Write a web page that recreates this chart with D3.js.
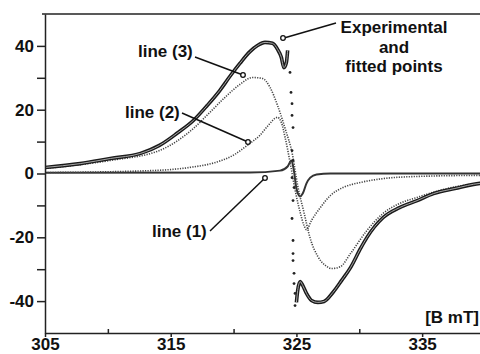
<!DOCTYPE html>
<html>
<head>
<meta charset="utf-8">
<script src="https://cdn.jsdelivr.net/npm/d3@7"></script>
<style>
  body { margin: 0; background: #fff; }
  text { font-family: "Liberation Sans", Arial, sans-serif; font-weight: bold; font-size: 17px; fill: #111; }
</style>
</head>
<body>
<div id="chart"></div>
<script>
// experimental / total fitted spectrum (B in mT, signal)
const expField = [305.0, 307.8, 310.2, 312.6, 314.1, 315.5, 316.8, 317.9, 318.9, 319.7, 320.5, 321.3, 321.9, 322.5, 323.1, 323.5, 323.8, 324.0, 324.2, 324.3,
  325.0, 325.1, 325.3, 325.5, 325.8, 326.2, 326.7, 327.2, 327.9, 328.6, 329.3, 330.1, 330.6, 331.9, 333.2, 334.6, 335.9, 337.6, 339.6, 340.0];
const expSignal = [1.9, 3.1, 4.7, 6.3, 8.8, 12.6, 16.6, 21.3, 26.0, 30.4, 34.5, 38.2, 40.1, 41.1, 40.8, 38.9, 36.4, 33.2, 34.8, 38.6,
  -40.4, -36.7, -33.9, -35.1, -37.6, -39.8, -40.4, -40.1, -37.3, -33.5, -29.5, -23.5, -20.1, -13.8, -10.7, -8.5, -6.3, -4.7, -3.1, -3.0];

// sparse experimental points in the steep crossing
const dotField = [324.49, 324.57, 324.65, 324.65, 324.73, 324.65, 324.73, 324.65, 324.81, 324.73, 324.65, 324.73, 324.73, 324.73, 324.81, 324.81, 324.89, 324.89];
const dotSignal = [31.7, 25.4, 21.9, 18.2, 14.4, 7.2, 4.1, -1.3, -4.4, -8.5, -14.1, -21.0, -25.1, -27.3, -31.3, -34.5, -37.6, -41.4];

// line (3)
const l3Field = [305.0, 310.2, 314.1, 316.8, 318.1, 319.3, 320.5, 321.5, 322.3, 322.9, 323.5, 324.1, 324.7, 325.1, 325.6, 326.1, 326.7, 327.3, 327.8, 328.5,
  329.3, 330.6, 331.9, 333.2, 334.6, 336.4, 339.6, 340.0];
const l3Signal = [1.6, 4.1, 7.2, 14.1, 19.1, 23.8, 27.9, 30.1, 29.8, 27.0, 21.3, 14.1, 5.6, -3.8, -12.2, -20.4, -26.0, -28.8, -29.8, -29.2,
  -25.1, -17.9, -12.5, -9.4, -7.5, -5.3, -3.1, -3.0];

// line (2)
const l2Field = [305.0, 313.4, 316.5, 318.5, 320.1, 321.15, 322.1, 322.7, 323.5, 323.8, 324.1, 324.5, 324.9, 325.3, 325.6, 325.8, 326.2, 326.9, 327.7, 328.7,
  330.1, 331.9, 334.8, 339.6, 340.0];
const l2Signal = [0.3, 0.9, 1.9, 3.4, 6.0, 9.0, 12.0, 14.8, 17.6, 16.0, 11.3, 3.4, -5.3, -12.2, -16.3, -17.6, -14.7, -10.7, -6.9, -4.4,
  -2.8, -1.6, -0.9, -0.6, -0.6];

// line (1)
const l1Field = [305.0, 321.3, 323.7, 324.3, 324.6, 324.8, 325.0, 325.3, 325.5, 325.8, 326.1, 326.6, 327.7, 340.0];
const l1Signal = [0.2, 0.3, 0.9, 2.2, 4.1, 0.9, -4.7, -7.2, -6.3, -3.1, -1.3, -0.3, 0.0, 0.0];

const xMajor = [305, 315, 325, 335];
const xMinor = [310, 320, 330];
const yMajor = [-40, -20, 0, 20, 40];
const yMinor = [-30, -10, 10, 30];

const width = 480, height = 354;
const plotLeft = 45, plotTop = 14, plotBottom = 333;

const svg = d3.select('#chart').append('svg')
  .attr('width', width)
  .attr('height', height);

const x = d3.scaleLinear().domain([305, 340]).range([plotLeft, 485]);
const y = d3.scaleLinear().domain([-50, 50]).range([plotBottom, plotTop]);

svg.append('clipPath').attr('id', 'clip')
  .append('rect')
  .attr('x', plotLeft).attr('y', plotTop)
  .attr('width', width - plotLeft).attr('height', plotBottom - plotTop);

const zip = (xs, ys) => xs.map((v, i) => [v, ys[i]]);
const line = d3.line()
  .x(d => x(d[0]))
  .y(d => y(d[1]))
  .curve(d3.curveMonotoneX);

const plot = svg.append('g').attr('clip-path', 'url(#clip)');

// line (1)
plot.append('path')
  .attr('d', line(zip(l1Field, l1Signal)))
  .attr('fill', 'none')
  .attr('stroke', '#333')
  .attr('stroke-width', 2);

// line (2), line (3) dotted
[[l2Field, l2Signal], [l3Field, l3Signal]].forEach(([f, s]) => {
  plot.append('path')
    .attr('d', line(zip(f, s)))
    .attr('fill', 'none')
    .attr('stroke', '#444')
    .attr('stroke-width', 1.6)
    .attr('stroke-dasharray', '1.2 1.3');
});

// experimental + fitted points: thick band, split at the steep crossing
const expPts = zip(expField, expSignal);
const parts = [expPts.filter(d => d[0] <= 324.3), expPts.filter(d => d[0] >= 325.0)];
parts.forEach(p => {
  plot.append('path')
    .attr('d', line(p))
    .attr('fill', 'none')
    .attr('stroke', '#1a1a1a')
    .attr('stroke-width', 3.6);
  plot.append('path')
    .attr('d', line(p))
    .attr('fill', 'none')
    .attr('stroke', '#a8a8a8')
    .attr('stroke-width', 1);
});

plot.selectAll('.dot')
  .data(zip(dotField, dotSignal))
  .enter().append('circle')
  .attr('class', 'dot')
  .attr('cx', d => x(d[0]))
  .attr('cy', d => y(d[1]))
  .attr('r', 1.4)
  .attr('fill', '#222');

// frame
svg.append('line')
  .attr('x1', 42).attr('x2', width)
  .attr('y1', plotTop).attr('y2', plotTop)
  .attr('stroke', '#222').attr('stroke-width', 1.5);

// axes
const fmt = d => String(d);
svg.append('g')
  .attr('transform', `translate(${plotLeft},0)`)
  .call(d3.axisLeft(y).tickValues(yMajor).tickSize(8).tickSizeOuter(0).tickPadding(3).tickFormat(fmt));
svg.append('g')
  .attr('transform', `translate(${plotLeft},0)`)
  .call(d3.axisLeft(y).tickValues(yMinor).tickSize(8).tickSizeOuter(0).tickFormat(''))
  .select('.domain').remove();

svg.append('g')
  .attr('transform', `translate(0,${plotBottom})`)
  .call(d3.axisBottom(x).tickValues(xMajor).tickSize(4).tickSizeOuter(0).tickPadding(1).tickFormat(fmt));
svg.append('g')
  .attr('transform', `translate(0,${plotBottom})`)
  .call(d3.axisTop(x).tickValues(xMinor).tickSize(4).tickSizeOuter(0).tickFormat(''))
  .select('.domain').remove();

svg.selectAll('.domain, .tick line').attr('stroke', '#222').attr('stroke-width', 1.5);
svg.selectAll('.tick text')
  .attr('font-family', '"Liberation Sans", Arial, sans-serif')
  .attr('font-weight', 'bold')
  .attr('font-size', 17)
  .attr('fill', '#111');

// annotations
const notes = [
  { text: 'line (3)', tx: 138, ty: 57, from: [195, 57], to: [243, 75] },
  { text: 'line (2)', tx: 125, ty: 118, from: [182, 113], to: [248, 142] },
  { text: 'line (1)', tx: 152, ty: 237, from: [210, 231], to: [265, 178] }
];
notes.forEach(n => {
  svg.append('text').attr('x', n.tx).attr('y', n.ty).text(n.text);
  svg.append('line')
    .attr('x1', n.from[0]).attr('y1', n.from[1])
    .attr('x2', n.to[0]).attr('y2', n.to[1])
    .attr('stroke', '#111').attr('stroke-width', 1.5);
  svg.append('circle')
    .attr('cx', n.to[0]).attr('cy', n.to[1]).attr('r', 2.3)
    .attr('fill', '#fff').attr('stroke', '#111').attr('stroke-width', 1.3);
});

const expLabel = ['Experimental', 'and', 'fitted points'];
svg.append('g').selectAll('text')
  .data(expLabel)
  .enter().append('text')
  .attr('x', 394)
  .attr('y', (d, i) => 33 + i * 19.5)
  .attr('text-anchor', 'middle')
  .text(d => d);
svg.append('line')
  .attr('x1', 336).attr('y1', 23)
  .attr('x2', 284).attr('y2', 38)
  .attr('stroke', '#111').attr('stroke-width', 1.5);
svg.append('circle')
  .attr('cx', 283).attr('cy', 38).attr('r', 2.3)
  .attr('fill', '#fff').attr('stroke', '#111').attr('stroke-width', 1.3);

svg.append('text')
  .attr('x', 479).attr('y', 323)
  .attr('text-anchor', 'end')
  .text('[B mT]');
</script>
</body>
</html>
